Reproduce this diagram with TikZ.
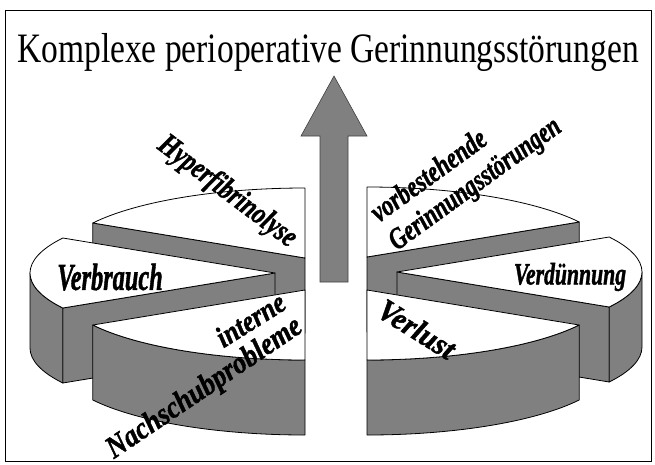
\documentclass[tikz,border=0pt]{standalone}
\usepackage{fontspec}
\setmainfont{Liberation Serif}
\newfontfamily\heavy{Liberation Serif}[BoldItalicFeatures={FakeBold=1.5}]
\usepackage{graphicx}
\usetikzlibrary{calc}
\definecolor{pgray}{RGB}{128,128,128}
\tikzset{
  topf/.style={fill=white, draw=black, line width=0.8pt, line join=round},
  sidef/.style={fill=pgray, draw=black, line width=0.8pt, line join=round},
  arrowf/.style={fill=pgray, draw=black!75, line width=0.6pt, line join=miter},
  lbl/.style={inner sep=0pt, outer sep=0pt},
  frame/.style={draw=black, line width=0.8pt},
}
\newcommand{\slab}[3]{\scalebox{#1}[1]{\fontsize{#2}{#2}\selectfont\heavy\bfseries\itshape #3}}
\begin{document}
\begin{tikzpicture}[x=1pt,y=1pt]
\useasboundingbox (0,0) rectangle (655,-464);
\draw[frame] (5,-10) rectangle (651,-461);
\node (title) [anchor=base, inner sep=0pt] at (328,-62) {\scalebox{1}[1.25]{\fontsize{33.5}{40}\selectfont Komplexe perioperative Gerinnungsstörungen}};

% arrow
\draw[arrowf] (320,-282) -- (320,-136) -- (301,-136) -- (334,-76) -- (367,-136) -- (348,-136) -- (348,-282) -- cycle;

% ---------- left pie ----------
% Hyperfibrinolyse (90..150)
\coordinate (Hc) at (305,-258);
\draw[sidef] (Hc) -- ($(Hc)+(150:245 and 70)$) -- ($(Hc)+(150:245 and 70)+(0,-75)$) -- ($(Hc)+(0,-75)$) -- cycle;
\draw[topf] (Hc) -- ($(Hc)+(150:245 and 70)$) arc[start angle=150, end angle=90, x radius=245, y radius=70] -- cycle;

% Verbrauch (150..210)
\coordinate (Bc) at (275,-273);
\draw[sidef] (Bc) -- ($(Bc)+(210:245 and 70)$) -- ($(Bc)+(210:245 and 70)+(0,-75)$) -- ($(Bc)+(0,-75)$) -- cycle;
\draw[sidef] ($(Bc)+(180:245 and 70)$) arc[start angle=180, end angle=210, x radius=245, y radius=70] -- ++(0,-75) arc[start angle=210, end angle=180, x radius=245, y radius=70] -- cycle;
\draw[topf] (Bc) -- ($(Bc)+(150:245 and 70)$) arc[start angle=150, end angle=210, x radius=245, y radius=70] -- cycle;

% Nachschub (210..270)
\coordinate (Nc) at (305,-290);
\draw[sidef] ($(Nc)+(210:245 and 70)$) arc[start angle=210, end angle=270, x radius=245, y radius=70] -- ++(0,-75) arc[start angle=270, end angle=210, x radius=245, y radius=70] -- cycle;
\draw[topf] (Nc) -- ($(Nc)+(210:245 and 70)$) arc[start angle=210, end angle=270, x radius=245, y radius=70] -- cycle;

% ---------- right pie ----------
% vorbestehende (30..90)
\coordinate (Gc) at (367,-257);
\draw[sidef] (Gc) -- ($(Gc)+(30:245 and 70)$) -- ($(Gc)+(30:245 and 70)+(0,-75)$) -- ($(Gc)+(0,-75)$) -- cycle;
\draw[topf] (Gc) -- ($(Gc)+(30:245 and 70)$) arc[start angle=30, end angle=90, x radius=245, y radius=70] -- cycle;

% Verduennung (-30..30)
\coordinate (Dc) at (397,-272);
\draw[sidef] (Dc) -- ($(Dc)+(-30:245 and 70)$) -- ($(Dc)+(-30:245 and 70)+(0,-75)$) -- ($(Dc)+(0,-75)$) -- cycle;
\draw[sidef] ($(Dc)+(-30:245 and 70)$) arc[start angle=-30, end angle=0, x radius=245, y radius=70] -- ++(0,-75) arc[start angle=0, end angle=-30, x radius=245, y radius=70] -- cycle;
\draw[topf] (Dc) -- ($(Dc)+(-30:245 and 70)$) arc[start angle=-30, end angle=30, x radius=245, y radius=70] -- cycle;

% Verlust (-90..-30)
\coordinate (Lc) at (367,-290);
\draw[sidef] ($(Lc)+(-90:245 and 70)$) arc[start angle=-90, end angle=-30, x radius=245, y radius=70] -- ++(0,-75) arc[start angle=-30, end angle=-90, x radius=245, y radius=70] -- cycle;
\draw[topf] (Lc) -- ($(Lc)+(-90:245 and 70)$) arc[start angle=-90, end angle=-30, x radius=245, y radius=70] -- cycle;

% ---------- labels ----------
\node (hyp) [lbl, rotate=-37] at (227,-192) {\slab{0.77}{31}{Hyperfibrinolyse}};
\node (verb) [lbl] at (110,-277) {\slab{0.64}{38}{Verbrauch}};
\node (int) [lbl, anchor=base east, rotate=32] at (288,-308) {\slab{0.86}{30}{interne}};
\node (nach) [lbl, anchor=base west, rotate=34] at (114,-459) {\slab{0.87}{31}{Nachschubprobleme}};
\node (vorb) [lbl, anchor=base west, rotate=36] at (379,-223) {\slab{0.77}{30}{vorbestehende}};
\node (ger) [lbl, anchor=base west, rotate=36] at (397,-251) {\slab{0.75}{30}{Gerinnungsstörungen}};
\node (verd) [lbl] at (570,-277) {\slab{0.7}{31}{Verdünnung}};
\node (verl) [lbl, rotate=-32] at (417,-329) {\slab{0.95}{31}{Verlust}};
\end{tikzpicture}
\end{document}
